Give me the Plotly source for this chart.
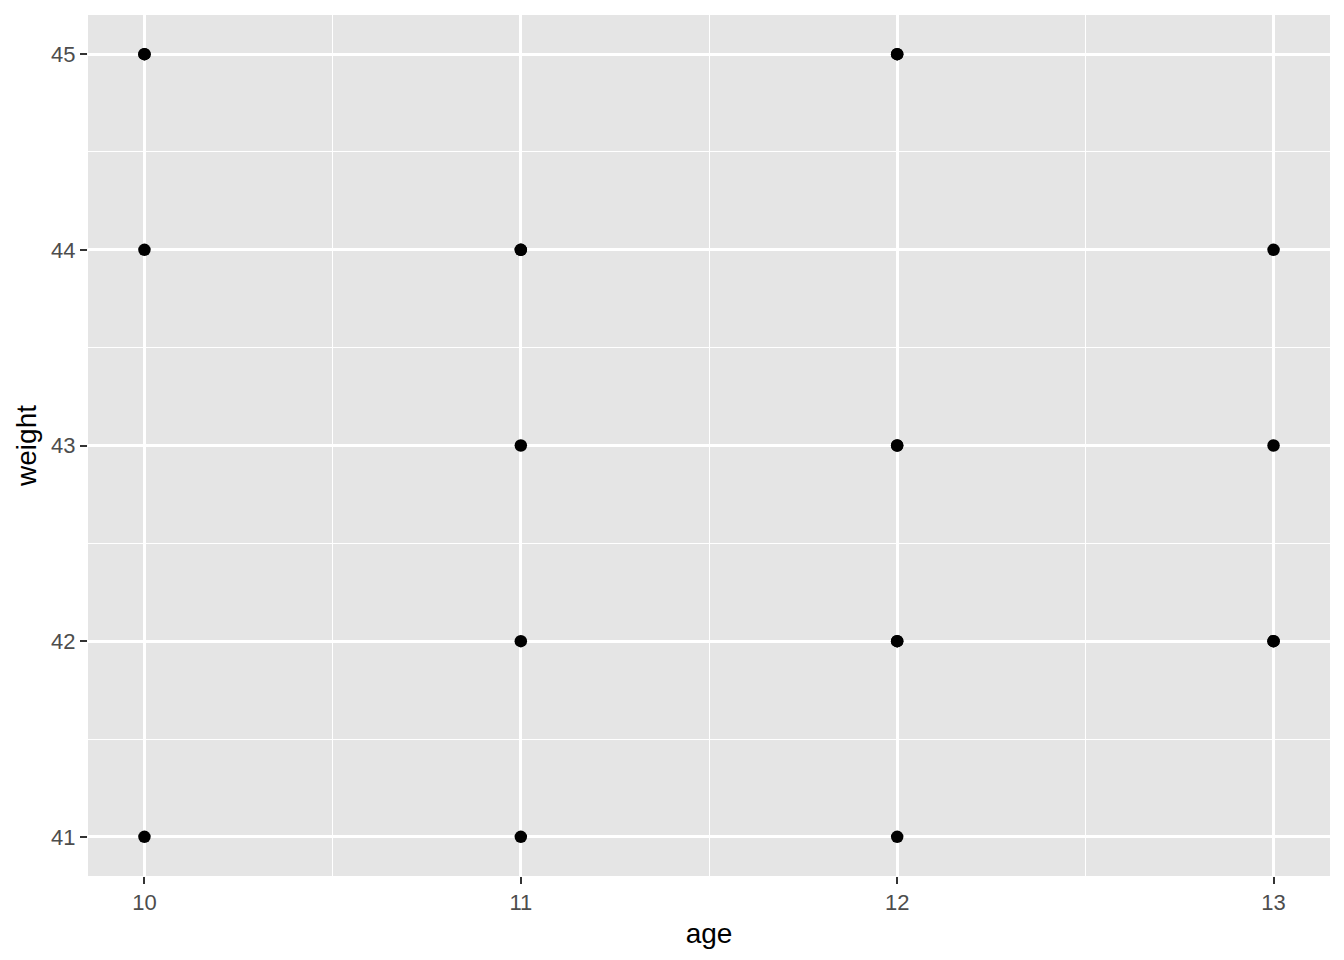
import plotly.graph_objects as go

# observations (duplicates reproduce overplotted points)
age = [10, 10, 10, 10, 11, 11, 11, 11, 11, 12, 12, 12, 12, 12, 12, 12, 13, 13, 13, 13]
weight = [45, 45, 44, 41, 44, 44, 43, 42, 41, 45, 45, 43, 43, 42, 42, 41, 44, 43, 42, 42]

x_ticks = [10, 11, 12, 13]
y_ticks = [41, 42, 43, 44, 45]

fig = go.Figure()

fig.add_trace(go.Scatter(
    x=age,
    y=weight,
    mode='markers',
    marker=dict(size=12.5, color='black'),
    showlegend=False,
))

# page body has an 8px margin, so the figure is 1336x952
fig.update_layout(
    width=1336,
    height=952,
    margin={'l': 80, 'r': 14, 't': 7, 'b': 84},
    paper_bgcolor='white',
    plot_bgcolor='#E5E5E5',
    font=dict(family='Liberation Sans, Arial, sans-serif'),
    xaxis=dict(
        range=[9.85, 13.15],
        tickvals=x_ticks,
        ticktext=[str(v) for v in x_ticks],
        tickfont=dict(size=22, color='#4D4D4D'),
        ticks='outside',
        ticklen=7,
        tickwidth=2,
        tickcolor='#333333',
        showgrid=True,
        gridcolor='white',
        gridwidth=2.5,
        zeroline=False,
        showline=False,
        minor=dict(dtick=0.5, tick0=0, showgrid=True, gridcolor='white', gridwidth=1.2, ticks=''),
        title=dict(text='age', font=dict(size=28, color='black'), standoff=8),
    ),
    yaxis=dict(
        range=[40.8, 45.2],
        tickvals=y_ticks,
        ticktext=[str(v) for v in y_ticks],
        tickfont=dict(size=22, color='#4D4D4D'),
        ticks='outside',
        ticklen=7,
        tickwidth=2,
        tickcolor='#333333',
        showgrid=True,
        gridcolor='white',
        gridwidth=2.5,
        zeroline=False,
        showline=False,
        minor=dict(dtick=0.5, tick0=0, showgrid=True, gridcolor='white', gridwidth=1.2, ticks=''),
        title=dict(text='weight', font=dict(size=28, color='black'), standoff=6),
    ),
)

fig.write_html("out.html")
